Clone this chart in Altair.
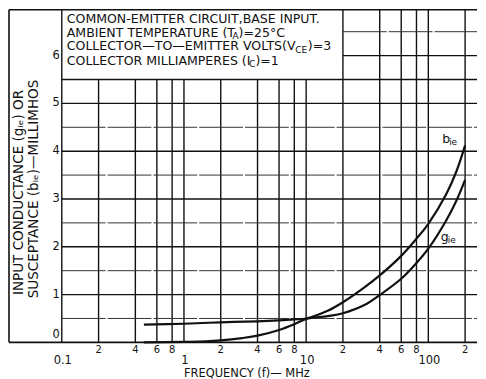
import altair as alt
import pandas as pd

# ---------------- data ----------------
freq_b = [0.47, 1, 2, 4, 6, 8, 10, 15, 20, 30, 40, 60, 80, 100, 140, 170, 200]
b_ie = [0.37, 0.39, 0.42, 0.44, 0.46, 0.48, 0.50, 0.66, 0.84, 1.15, 1.40, 1.81, 2.17, 2.48, 3.10, 3.58, 4.12]
freq_g = [0.47, 1, 1.5, 2, 3, 4, 6, 8, 10, 15, 20, 30, 40, 60, 80, 100, 140, 170, 200]
g_ie = [0.0, 0.01, 0.02, 0.04, 0.09, 0.14, 0.26, 0.38, 0.49, 0.55, 0.61, 0.78, 0.99, 1.33, 1.66, 1.96, 2.55, 2.97, 3.40]

x_grid = [0.1, 0.2, 0.4, 0.6, 0.8, 1, 2, 4, 6, 8, 10, 20, 40, 60, 80, 100, 200]
x_minor_ticks = [0.2, 0.4, 0.6, 0.8, 2, 4, 6, 8, 20, 40, 60, 80, 200]
x_minor_labels = ["2", "4", "6", "8", "2", "4", "6", "8", "2", "4", "6", "8", "2"]
x_major_ticks = [0.1, 1, 10, 100]
x_major_labels = ["0.1", "1", "10", "100"]
y_solid = [1, 2, 3, 4, 5, 5.5, 6]
y_broken = [0.5, 1.5, 2.5, 3.5, 4.5, 6.5]
y_labels = [1, 2, 3, 4, 5, 6]

box_first = "COMMON-EMITTER CIRCUIT,BASE INPUT."
box_lines = ["AMBIENT TEMPERATURE (T",
             "COLLECTOR\u2014TO\u2014EMITTER VOLTS(V",
             "COLLECTOR MILLIAMPERES (I"]
box_subs = ["A", "CE", "C"]
box_tails = [")=25\u00b0C", ")=3", ")=1"]
box_y = [6.673, 6.396, 6.110, 5.806]

# ---------------- layout constants ----------------
W, H = 470, 334
FONT = "DejaVu Sans"
INK = "#111111"
X_MIN, X_MAX = 0.03697, 250.3
Y_TOP = H / 48.0
BOX_X2, BOX_Y1 = 20, 5.5
BOX_FS = 12.6

xs = alt.Scale(type="log", domain=[X_MIN, X_MAX], nice=False)
ys = alt.Scale(domain=[0, Y_TOP], nice=False, zero=False)


def X(f):
    return alt.X(f, type="quantitative", scale=xs, axis=None)


def Y(f):
    return alt.Y(f, type="quantitative", scale=ys, axis=None)


# grid line tables
vdf = pd.DataFrame({"x": x_grid})
vdf["y1"] = 0.0
vdf["y2"] = [Y_TOP if (v == 0.1 or v >= BOX_X2) else BOX_Y1 for v in x_grid]

hs = pd.DataFrame({"y": y_solid})
hs["x1"] = [0.1 if v <= BOX_Y1 else BOX_X2 for v in y_solid]
hs["x2"] = X_MAX
hb = pd.DataFrame({"y": y_broken})
hb["x1"] = [0.1 if v <= BOX_Y1 else BOX_X2 for v in y_broken]
hb["x2"] = X_MAX

vgrid = alt.Chart(vdf).mark_rule(stroke=INK, strokeWidth=1.4).encode(
    x=X("x"), y=Y("y1"), y2="y2")
hgrid_s = alt.Chart(hs).mark_rule(stroke=INK, strokeWidth=1.4).encode(
    y=Y("y"), x=X("x1"), x2="x2")
hgrid_b = alt.Chart(hb).mark_rule(stroke="#333333", strokeWidth=1.0, strokeDash=[44, 2]).encode(
    y=Y("y"), x=X("x1"), x2="x2")

frame_src = pd.DataFrame({"k": [0]})
frame_left = alt.Chart(frame_src).mark_rule(stroke=INK, strokeWidth=1.6).encode(
    x=alt.value(0), y=alt.value(0), y2=alt.value(H))
frame_top = alt.Chart(frame_src).mark_rule(stroke=INK, strokeWidth=1.4).encode(
    x=alt.value(0), x2=alt.value(W), y=alt.value(0))
frame_bottom = alt.Chart(frame_src).mark_rule(stroke=INK, strokeWidth=1.8).encode(
    x=alt.value(0), x2=alt.value(W), y=alt.value(H))

# curves
bdf = pd.DataFrame({"f": freq_b, "v": b_ie})
gdf = pd.DataFrame({"f": freq_g, "v": g_ie})
curve_b = alt.Chart(bdf).mark_line(stroke=INK, strokeWidth=2.2, interpolate="catmull-rom").encode(
    x=X("f"), y=Y("v"))
curve_g = alt.Chart(gdf).mark_line(stroke=INK, strokeWidth=2.2, interpolate="catmull-rom").encode(
    x=X("f"), y=Y("v"))

# curve labels
lab = pd.DataFrame({"x": [129.8, 126.6], "y": [4.167, 2.125], "t": ["b", "g"], "s": ["ie", "ie"]})
lab_main = alt.Chart(lab).mark_text(font=FONT, fontSize=12.5, align="left", baseline="alphabetic",
                                    color=INK).encode(x=X("x"), y=Y("y"), text="t:N")
lab_sub = alt.Chart(lab).mark_text(font=FONT, fontSize=9, align="left", baseline="alphabetic",
                                   dx=7, dy=2, color=INK).encode(x=X("x"), y=Y("y"), text="s:N")

# box text (all lines start 5px right of the 0.1 line)
b1 = pd.DataFrame({"x": [0.1], "y": [box_y[0]], "t": [box_first]})
box_first_l = alt.Chart(b1).mark_text(font=FONT, fontSize=BOX_FS, align="left", baseline="alphabetic",
                                      dx=5, color=INK).encode(x=X("x"), y=Y("y"), text="t:N")
bx = pd.DataFrame({"x": [0.1] * 3, "y": box_y[1:], "t": box_lines, "s": box_subs, "r": box_tails})
sub_dx = [171.5, 234.5, 188]
tail_dx = [177.5, 247, 194.5]
box_layers = []
for i in range(3):
    row = bx.iloc[[i]]
    box_layers.append(
        alt.Chart(row).mark_text(font=FONT, fontSize=BOX_FS, align="left", baseline="alphabetic",
                                 dx=5, color=INK).encode(x=X("x"), y=Y("y"), text="t:N"))
    box_layers.append(
        alt.Chart(row).mark_text(font=FONT, fontSize=9, align="left", baseline="alphabetic",
                                 dx=sub_dx[i], dy=2.5, color=INK).encode(x=X("x"), y=Y("y"), text="s:N"))
    box_layers.append(
        alt.Chart(row).mark_text(font=FONT, fontSize=BOX_FS, align="left", baseline="alphabetic",
                                 dx=tail_dx[i], color=INK).encode(x=X("x"), y=Y("y"), text="r:N"))

# y tick labels
yl = pd.DataFrame({"x": [0.1] * len(y_labels), "y": y_labels, "t": [str(v) for v in y_labels]})
ylab = alt.Chart(yl).mark_text(font=FONT, fontSize=11.5, align="right", baseline="middle",
                               dx=-2, color=INK).encode(x=X("x"), y=Y("y"), text="t:N")
yl0 = pd.DataFrame({"x": [0.1], "y": [0], "t": ["0"]})
ylab0 = alt.Chart(yl0).mark_text(font=FONT, fontSize=11.5, align="right", baseline="middle",
                                 dx=-2, dy=-7, color=INK).encode(x=X("x"), y=Y("y"), text="t:N")

# x tick labels
xm = pd.DataFrame({"x": x_minor_ticks, "y": 0.0, "t": x_minor_labels})
xlab_minor = alt.Chart(xm).mark_text(font=FONT, fontSize=10, align="center", baseline="top",
                                     dy=3, color=INK).encode(x=X("x"), y=Y("y"), text="t:N")
xM = pd.DataFrame({"x": x_major_ticks, "y": 0.0, "t": x_major_labels})
xlab_major = alt.Chart(xM).mark_text(font=FONT, fontSize=11.5, align="center", baseline="top",
                                     dx=1, dy=12.5, color=INK).encode(x=X("x"), y=Y("y"), text="t:N")

# axis titles
xt = pd.DataFrame({"x": [1.0], "y": [0.0], "t": ["FREQUENCY (f)\u2014 MHz"]})
xtitle = alt.Chart(xt).mark_text(font=FONT, fontSize=11.5, align="left", baseline="top",
                                 dy=25.5, color=INK).encode(x=X("x"), y=Y("y"), text="t:N")
yt1 = alt.Chart(frame_src).mark_text(font=FONT, fontSize=13.6, angle=270, align="center",
                                     baseline="middle", color=INK,
                                     text="INPUT CONDUCTANCE (g\u1d62\u2091) OR").encode(
    x=alt.value(10), y=alt.value(183.5))
yt2 = alt.Chart(frame_src).mark_text(font=FONT, fontSize=13.6, angle=270, align="center",
                                     baseline="middle", color=INK,
                                     text="SUSCEPTANCE (b\u1d62\u2091)\u2014MILLIMHOS").encode(
    x=alt.value(25), y=alt.value(180))

chart = alt.layer(
    vgrid, hgrid_s, hgrid_b, frame_left, frame_top, frame_bottom,
    curve_b, curve_g, lab_main, lab_sub, box_first_l, *box_layers,
    ylab, ylab0, xlab_minor, xlab_major, xtitle, yt1, yt2,
).properties(
    width=W, height=H, padding=0,
    background="white",
).configure_view(stroke=None)

chart.save("out.html", embed_options={"renderer": "svg", "actions": False})
